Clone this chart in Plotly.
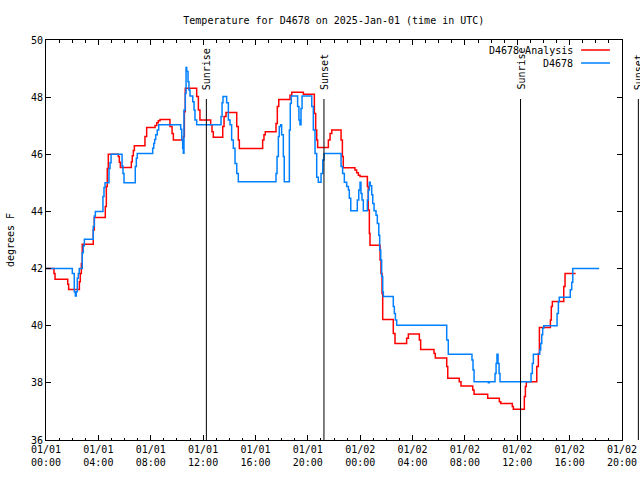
import pandas as pd
import plotly.graph_objects as go

TITLE = "Temperature for D4678 on 2025-Jan-01 (time in UTC)"
START = "2025-01-01 00:00"
END = "2025-01-02 20:00"

analysis_name = "D4678 Analysis"
analysis_hours = [0, 0.61, 0.69, 1.66, 1.73, 2.55, 2.62, 2.70, 2.77, 3.61, 3.69, 4.53, 4.61, 4.68, 4.76,
                  5.52, 5.60, 5.68, 6.52, 6.59, 6.67, 6.75, 7.56, 7.69, 8.33, 8.46, 8.58, 8.71, 9.47, 9.63,
                  9.73, 10.49, 10.57, 10.64, 11.51, 11.64, 11.76, 12.58, 12.68, 12.78, 13.50, 13.60, 13.75,
                  14.57, 14.69, 14.77, 16.55, 16.65, 16.75, 17.57, 17.67, 17.78, 18.64, 18.77, 19.66, 20.50,
                  20.60, 20.68, 20.75, 21.57, 21.70, 21.83, 22.54, 22.64, 22.71, 23.60, 23.73, 23.86, 23.99,
                  24.55, 24.62, 24.70, 24.75, 25.52, 25.59, 25.67, 25.72, 26.53, 26.66, 27.55, 27.68, 28.52,
                  28.62, 29.64, 29.74, 30.61, 30.69, 31.57, 31.70, 32.60, 32.70, 33.74, 34.63, 34.74, 35.62,
                  35.70, 36.54, 36.62, 36.69, 37.49, 37.61, 37.69, 38.53, 38.60, 38.68, 39.55, 39.65, 40.46]
analysis_temps = [42.0, 41.83, 41.63, 41.45, 41.27, 41.54, 41.83, 42.18, 42.85, 43.35, 43.79, 44.17, 44.87, 45.5, 46.0,
                  45.92, 45.72, 45.54, 45.74, 45.95, 46.13, 46.30, 46.62, 46.94, 47.01, 47.10, 47.17, 47.22, 46.97, 46.73,
                  46.50, 46.62, 47.49, 48.31, 48.02, 47.55, 47.20, 47.03, 46.79, 46.60, 46.97, 47.32, 47.46,
                  46.97, 46.50, 46.20, 46.50, 46.68, 46.79, 47.08, 47.67, 47.92, 48.07, 48.17, 48.10, 47.43,
                  46.85, 46.50, 46.24, 46.50, 46.73, 46.85, 46.50, 45.92, 45.53, 45.45, 45.35, 45.27, 45.22,
                  44.87, 44.05, 43.23, 42.82, 42.30, 41.83, 41.13, 40.22, 39.73, 39.38, 39.56, 39.71, 39.50,
                  39.17, 39.03, 38.87, 38.57, 38.16, 38.04, 37.89, 37.75, 37.60, 37.46, 37.34, 37.28, 37.17,
                  37.08, 37.52, 37.87, 38.04, 38.57, 39.03, 39.94, 40.20, 40.67, 40.85, 41.37, 41.83, 41.83]

station_name = "D4678"
station_hours = [0, 2.01, 2.16, 2.24, 2.31, 2.39, 2.47, 2.54, 2.77, 2.85, 2.93, 3.61, 3.69, 3.77, 4.35, 4.43, 4.51,
                 4.81, 4.89, 4.97, 5.81, 5.88, 5.96, 6.82, 6.90, 6.97, 8.15, 8.23, 8.30, 8.38, 8.50, 8.61,
                 10.29, 10.37, 10.44, 10.49, 10.54, 10.64, 10.70, 10.75, 10.85, 10.92, 11.00, 11.21, 11.31,
                 11.38, 11.51, 13.37, 13.45, 13.52, 13.80, 13.93, 14.06, 14.18, 14.31, 14.44, 14.57, 14.69,
                 17.57, 17.65, 17.75, 17.82, 17.93, 18.00, 18.13, 18.20, 18.59, 18.66, 18.74, 19.22, 19.32,
                 19.40, 19.48, 19.56, 20.30, 20.42, 20.55, 20.68, 20.80, 21.01, 21.14, 21.24, 22.54, 22.66,
                 22.79, 22.97, 23.10, 23.17, 23.28, 23.78, 23.89, 23.99, 24.06, 24.14, 24.24, 24.55, 24.62,
                 24.70, 24.77, 24.88, 24.96, 25.06, 25.21, 25.31, 25.42, 25.49, 25.57, 25.64, 25.72, 25.77,
                 26.53, 26.61, 26.69, 26.79, 30.61, 30.73, 32.54, 32.62, 32.70, 33.79, 33.87, 34.30, 34.38,
                 34.45, 34.53, 34.61, 34.68, 37.05, 37.15, 37.23, 37.71, 37.79, 37.87, 37.94, 38.02, 39.04,
                 39.14, 39.21, 40.05, 40.16, 40.24, 42.25]
station_temps = [42.0, 41.83, 41.19, 41.04, 41.19, 41.66, 41.83, 42.0, 42.55, 42.80, 43.03, 43.47, 43.84, 44.0, 44.52, 44.84, 45.0,
                 45.5, 45.7, 46.0, 45.59, 45.33, 45.0, 45.57, 45.86, 46.03, 46.21, 46.38, 46.52, 46.68, 46.85, 47.03,
                 46.88, 46.50, 46.21, 46.04, 47.55, 48.13, 49.04, 48.90, 48.54, 48.25, 48.04, 47.84, 47.55,
                 47.20, 47.03, 47.32, 47.80, 48.02, 47.80, 47.20, 47.03, 46.50, 46.21, 45.68, 45.33, 45.04,
                 45.33, 45.92, 46.62, 46.97, 47.03, 46.68, 45.92, 45.04, 46.85, 47.78, 48.04, 47.67, 47.20,
                 47.03, 47.60, 48.04, 47.67, 46.85, 46.03, 45.20, 45.02, 45.33, 45.80, 46.03, 45.57, 45.33,
                 45.02, 44.87, 44.75, 44.46, 44.02, 44.40, 44.75, 45.02, 44.63, 44.40, 44.02, 44.40, 44.75,
                 45.02, 44.90, 44.58, 44.28, 44.02, 43.87, 43.58, 43.17, 42.65, 42.30, 41.72, 41.19, 41.02,
                 40.67, 40.43, 40.20, 40.02, 39.50, 39.00, 38.80, 38.45, 38.04, 38.00, 38.04, 38.33, 38.68,
                 39.00, 38.68, 38.33, 38.04, 38.33, 38.68, 39.00, 39.15, 39.38, 39.68, 39.91, 40.00, 40.43,
                 40.84, 41.00, 41.26, 41.52, 42.00, 42.00]

sun_labels = ["Sunrise", "Sunset", "Sunrise", "Sunset"]
sun_times = ["2025-01-01 12:15", "2025-01-01 21:14", "2025-01-02 12:15", "2025-01-02 21:15"]

y_ticks = [36, 38, 40, 42, 44, 46, 48, 50]

RED = "#ff0000"
BLUE = "#0080ff"
FONT = "DejaVu Sans Mono"

t0 = pd.Timestamp(START)
t1 = pd.Timestamp(END)
ax_x = t0 + pd.to_timedelta(analysis_hours, unit="h")
st_x = t0 + pd.to_timedelta(station_hours, unit="h")

fig = go.Figure()
fig.add_trace(go.Scatter(x=ax_x, y=analysis_temps, mode="lines", line=dict(color=RED, width=1.5, shape="hv"),
                         name=analysis_name, showlegend=False))
fig.add_trace(go.Scatter(x=st_x, y=station_temps, mode="lines", line=dict(color=BLUE, width=1.5, shape="hv"),
                         name=station_name, showlegend=False))

span = (t1 - t0).total_seconds()
LINE_TOP = 0.8525
for lab, ts in zip(sun_labels, sun_times):
    frac = (pd.Timestamp(ts) - t0).total_seconds() / span
    fig.add_shape(type="line", xref="paper", yref="paper", x0=frac, x1=frac, y0=0, y1=LINE_TOP,
                  line=dict(color="black", width=1))
    fig.add_annotation(xref="paper", yref="paper", x=frac, y=0.87, text=lab, textangle=-90,
                       showarrow=False, xanchor="center", yanchor="bottom",
                       font=dict(family=FONT, size=10, color="black"))

# legend (text left of sample line, as in gnuplot)
for i, (nm, col) in enumerate([(analysis_name, RED), (station_name, BLUE)]):
    yy = 0.975 - i * 0.0325
    fig.add_annotation(xref="paper", yref="paper", x=0.918, y=yy, text=nm, showarrow=False,
                       xanchor="right", yanchor="middle", font=dict(family=FONT, size=10, color="black"))
    fig.add_shape(type="line", xref="paper", yref="paper", x0=0.929, x1=0.979, y0=yy, y1=yy,
                  line=dict(color=col, width=1.5))

fig.update_layout(
    width=640, height=480,
    margin=dict(l=46, r=18, t=40, b=40, autoexpand=False),
    paper_bgcolor="white", plot_bgcolor="white",
    font=dict(family=FONT, size=10, color="black"),
    title=dict(text=TITLE, x=0.5216, xanchor="center", y=0.958, yanchor="middle",
               font=dict(family=FONT, size=10, color="black")),
    showlegend=False,
)
fig.update_xaxes(
    type="date", range=[t0, t1], tick0=t0, dtick=4 * 3600 * 1000,
    tickformat="%m/%d<br>%H:%M", ticks="inside", ticklen=5, tickcolor="black",
    showline=True, linecolor="black", linewidth=1, mirror="ticks", showgrid=False, zeroline=False,
    minor=dict(dtick=3600 * 1000, ticks="inside", ticklen=2.5, tickcolor="black", showgrid=False),
    tickfont=dict(family=FONT, size=10), automargin=False,
)
fig.update_yaxes(
    range=[36, 50], tickvals=y_ticks, ticks="inside", ticklen=5, tickcolor="black",
    showline=True, linecolor="black", linewidth=1, mirror="ticks", showgrid=False, zeroline=False,
    title=dict(text="degrees F", standoff=14, font=dict(family=FONT, size=10)),
    tickfont=dict(family=FONT, size=10), automargin=False,
)

fig.write_html("out.html")
